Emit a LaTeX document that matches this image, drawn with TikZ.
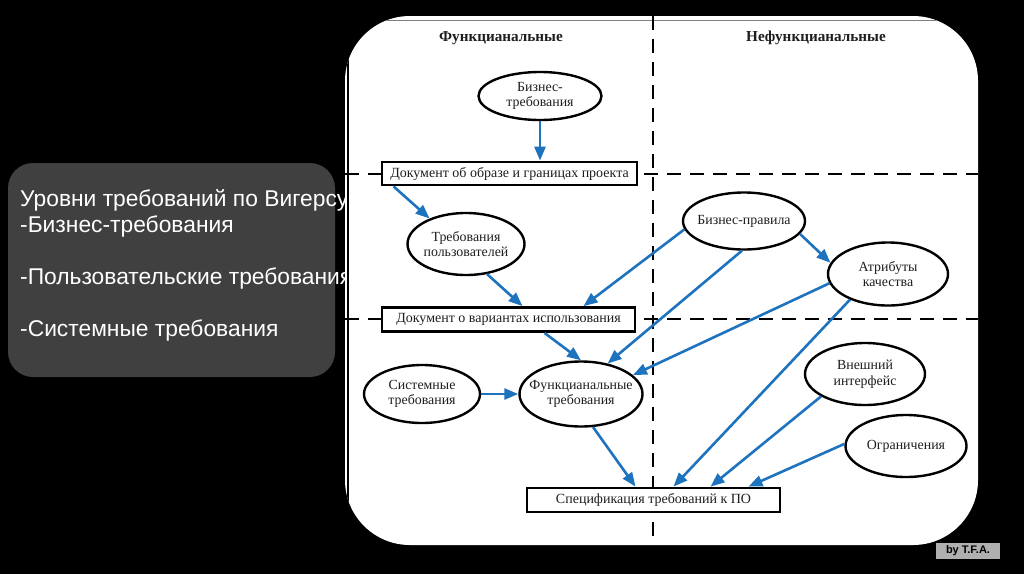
\documentclass[tikz,border=0pt]{standalone}
\usepackage{fontspec}
\setmainfont{Liberation Serif}
\newfontfamily\sansf{Liberation Sans}
\usetikzlibrary{shapes.geometric,arrows.meta}
\definecolor{arrowblue}{RGB}{30,115,190}
\definecolor{boxgrey}{RGB}{64,64,64}
\definecolor{badgegrey}{RGB}{176,176,176}
\definecolor{inkc}{RGB}{30,30,30}
\begin{document}
\begin{tikzpicture}[x=1pt,y=-1pt,
  ell/.style={ellipse, draw=black, line width=2.4pt, fill=white, inner xsep=-25pt, inner ysep=-12pt, text=inkc,
              font=\fontsize{13.9}{15.5}\selectfont, align=center},
  docbox/.style={rectangle, draw=black, line width=2.8pt, fill=white, minimum width=253pt,
              minimum height=24pt, inner sep=0pt, text=inkc, font=\fontsize{14}{15}\selectfont},
  arr/.style={draw=arrowblue, line width=2.6pt, -{Triangle[length=14pt,width=11pt]}},
  sepline/.style={dash pattern=on 14pt off 9pt, line width=1.8pt, black},
  lvl/.style={anchor=base west, inner sep=0pt, text=white, font=\sansf\fontsize{22.8}{26}\selectfont},
  head/.style={font=\bfseries\fontsize{15.2}{17}\selectfont, text=inkc}
]
\fill[black] (0,0) rectangle (1024,574);
\useasboundingbox (0,0) rectangle (1024,574);

% left grey text box
\fill[boxgrey, rounded corners=25pt] (8,163) rectangle (335,377);
\node[lvl] (lv1) at (20,206) {Уровни требований по Вигерсу};
\node[lvl] (lv2) at (20,232) {-Бизнес-требования};
\node[lvl] (lv3) at (20,284) {-Пользовательские требования};
\node[lvl] (lv4) at (20,336) {-Системные требования};

% white panel
\fill[white, rounded corners=65pt] (345,16) rectangle (978,545);
\begin{scope}
  \clip[rounded corners=65pt] (345,16) rectangle (978,545);
  \draw[black, line width=2pt] (347.5,16) -- (347.5,545);
  \draw[gray, line width=1.5pt] (345,20.5) -- (978,20.5);
\end{scope}

% separators
\draw[sepline] (653,16) -- (653,545);
\draw[sepline] (345,174) -- (978,174);
\draw[sepline] (345,319) -- (978,319);

% headers
\node[head] (hf) at (501,38) {Функцианальные};
\node[head] (hn) at (816,38) {Нефункцианальные};

% nodes
\node[ell, minimum width=123pt, minimum height=48pt] (biz) at (540,96) {Бизнес-\\требования};
\node[docbox, minimum width=255pt, minimum height=23pt] (doc1) at (509.5,173.5) {Документ об образе и границах проекта};
\node[ell, minimum width=117pt, minimum height=62pt] (user) at (466,244) {Требования\\пользователей};
\node[docbox] (doc2) at (508.5,319.5) {Документ о вариантах использования};
\node[ell, minimum width=122pt, minimum height=57pt] (bizr) at (744,221) {Бизнес-правила};
\node[ell, minimum width=120pt, minimum height=63pt] (attr) at (888,274) {Атрибуты\\качества};
\node[ell, minimum width=116pt, minimum height=58pt] (sys) at (422,394) {Системные\\требования};
\node[ell, minimum width=123pt, minimum height=65pt] (func) at (581,394) {Функцианальные\\требования};
\node[ell, minimum width=120pt, minimum height=62pt] (ext) at (865,374) {Внешний\\интерфейс};
\node[ell, minimum width=121pt, minimum height=62pt] (lim) at (906,446) {Ограничения};
\node[docbox] (spec) at (653.5,500) {Спецификация требований к ПО};

% connectors
\draw[arr] (biz.south) -- (biz.south |- doc1.north);
\draw[arr] ([xshift=-116pt]doc1.south) -- (user.145);
\draw[arr] (user.-55) -- ([xshift=14pt]doc2.north);
\draw[arr] (bizr.-13) -- (attr.169);
\draw[arr] (bizr.-172) -- ([xshift=75pt]doc2.north);
\draw[arr] (bizr.-94) -- (func.49);
\draw[arr] (attr.-171) -- (func.20);
\draw[arr] (attr.-146) -- ([xshift=20pt]spec.north);
\draw[arr] (ext.-153) -- ([xshift=57pt]spec.north);
\draw[arr] (lim.178) -- ([xshift=95pt]spec.north);
\draw[arr] ([xshift=36pt]doc2.south) -- (func.north);
\draw[arr] (sys.east) -- (func.west);
\draw[arr] (func.-70) -- ([xshift=-18pt]spec.north);

% badge
\node[fill=badgegrey, inner sep=0pt, minimum width=64pt, minimum height=16pt,
      font=\sansf\bfseries\fontsize{11}{12}\selectfont] (badge) at (968,551) {by T.F.A.};
\end{tikzpicture}
\end{document}
